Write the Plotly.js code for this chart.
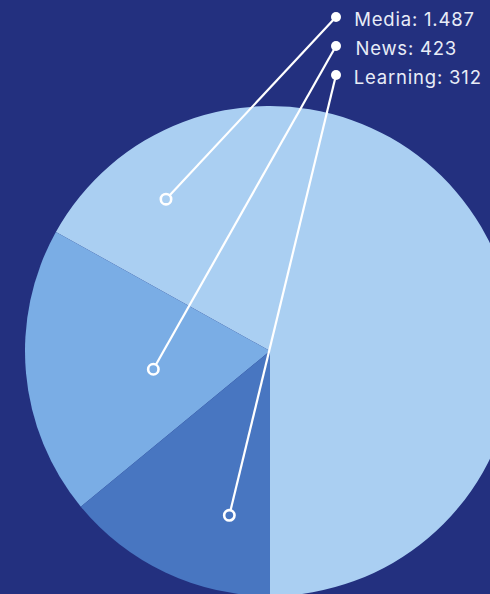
<!DOCTYPE html>
<html>
<head>
<meta charset="utf-8">
<script src="https://cdn.plot.ly/plotly-3.0.1.min.js"></script>
<style>
html, body { margin:0; padding:0; width:490px; height:594px; overflow:hidden; background:#23307f; }
#chart { position:absolute; left:0; top:0; width:540px; height:620px; }
#chart .annotation-text { letter-spacing:0.8px; }
</style>
</head>
<body>
<div id="chart"></div>
<script>
// data
const categories = ["Media", "News", "Learning"];
const values = [1487, 423, 312];
const valueLabels = ["1.487", "423", "312"];
const colors = ["#aacff2", "#7aade5", "#4876c1"];

// geometry (page pixels)
const W = 540, H = 620;
const CX = 270, CY = 351, R = 245;
const total = values.reduce((a, b) => a + b, 0);
const spans = values.map(v => 360 * v / total);
const rotation = 180 - spans[0]; // first slice ends at 6 o'clock, rest go counterclockwise

// callout anchors inside each slice: fraction of slice angle (from its clockwise-low edge), fraction of radius
const anchorAngleFrac = [0.11, 0.446, 0.275];
const anchorRadiusFrac = [0.751, 0.482, 0.691];
const labelDotX = 336, labelTextX = 357;
const labelY = [17, 46, 75];

const px = x => x / W;
const py = y => 1 - y / H;

// low (clockwise-start) edge of each slice
const lows = [];
let edge = rotation;
lows.push(edge);
for (let i = 1; i < values.length; i++) { edge -= spans[i]; lows.push(edge); }

const lines = [], dots = [];
const annotations = [];
categories.forEach((c, i) => {
  const ang = (lows[i] + anchorAngleFrac[i] * spans[i]) * Math.PI / 180;
  const r = anchorRadiusFrac[i] * R;
  const ax = CX + r * Math.sin(ang);
  const ay = CY - r * Math.cos(ang);
  lines.push({type:'line', xref:'paper', yref:'paper', layer:'above',
    x0:px(labelDotX), y0:py(labelY[i]), x1:px(ax), y1:py(ay),
    line:{color:'#ffffff', width:2.2}});
  dots.push({type:'circle', xref:'paper', yref:'paper', layer:'above',
    xsizemode:'pixel', ysizemode:'pixel', xanchor:px(ax), yanchor:py(ay),
    x0:-5.2, x1:5.2, y0:-5.2, y1:5.2, fillcolor:colors[i], line:{color:'#ffffff', width:2.6}});
  dots.push({type:'circle', xref:'paper', yref:'paper', layer:'above',
    xsizemode:'pixel', ysizemode:'pixel', xanchor:px(labelDotX), yanchor:py(labelY[i]),
    x0:-5, x1:5, y0:-5, y1:5, fillcolor:'#ffffff', line:{color:'#ffffff', width:0}});
  annotations.push({xref:'paper', yref:'paper', x:px(labelTextX), y:py(labelY[i] + 2),
    xanchor:'left', yanchor:'middle', showarrow:false,
    text: c + ': ' + valueLabels[i],
    font:{family:'Inter, Lato, sans-serif', size:18.5, color:'#e8ecf7'}});
});

const trace = {
  type:'pie',
  labels: categories,
  values: values,
  sort:false,
  direction:'counterclockwise',
  rotation: rotation,
  marker:{colors: colors, line:{width:0}},
  textinfo:'none',
  hoverinfo:'label+value',
  showlegend:false,
  domain:{x:[(CX - R) / W, (CX + R) / W], y:[1 - (CY + R) / H, 1 - (CY - R) / H]}
};

Plotly.newPlot('chart', [trace], {
  width: W, height: H,
  margin:{l:0, r:0, t:0, b:0},
  paper_bgcolor:'#23307f',
  plot_bgcolor:'#23307f',
  showlegend:false,
  shapes: lines.concat(dots),
  annotations: annotations
}, {staticPlot:true});
</script>
</body>
</html>
